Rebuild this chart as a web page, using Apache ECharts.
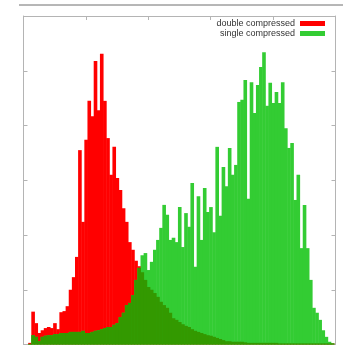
<!DOCTYPE html>
<html>
<head>
<meta charset="utf-8">
<script src="https://cdn.jsdelivr.net/npm/echarts@6/dist/echarts.min.js"></script>
<style>
  html, body { margin: 0; padding: 0; background: #ffffff; }
  #chart { width: 343px; height: 348px; }
</style>
</head>
<body>
<div id="chart"></div>
<script>
// Histogram of two score distributions, 99 bins; bin k is centred at x = k + 1.
const seriesNames = ['double compressed', 'single compressed'];

// bin counts, double compressed
const doubleCompressed = [
  0, 3, 60, 39, 21, 26, 30, 32, 30, 39,
  28, 59, 61, 70, 100, 123, 160, 355, 224, 374,
  445, 417, 518, 428, 531, 445, 377, 310, 361, 304,
  282, 249, 224, 187, 173, 153, 143, 132, 118, 105,
  100, 94, 87, 78, 72, 67, 58, 48, 45, 41,
  37, 34, 32, 28, 25, 23, 21, 19, 17, 16,
  14, 12, 10, 8, 6, 6, 5, 5, 5, 5,
  4, 3, 3, 3, 3, 3, 3, 3, 3, 3,
  3, 2, 2, 2, 2, 2, 2, 2, 2, 2,
  2, 2, 2, 2, 2, 2, 2, 2, 2
];

// bin counts, single compressed
const singleCompressed = [
  0, 1, 17, 14, 6, 14, 16, 17, 17, 19,
  19, 21, 21, 21, 23, 23, 23, 23, 25, 21,
  21, 23, 25, 26, 28, 30, 32, 32, 36, 39,
  50, 58, 72, 76, 90, 118, 140, 163, 167, 136,
  151, 173, 191, 213, 255, 237, 191, 195, 187, 251,
  178, 240, 215, 295, 142, 271, 191, 286, 242, 251,
  205, 361, 235, 324, 289, 359, 310, 328, 443, 447,
  483, 266, 479, 423, 474, 507, 534, 436, 478, 441,
  461, 441, 479, 395, 359, 368, 264, 310, 176, 255,
  176, 118, 67, 58, 45, 26, 14, 5, 2
];

const RED = '#ff0000';
const GREEN = '#33cc33';
const OVERLAP = '#339900';
const FRAME = '#b4b4b4';

function toPoints(values) {
  return values.map((v, k) => [k + 1, v]);
}
const overlapValues = doubleCompressed.map((v, k) => Math.min(v, singleCompressed[k]));

// Adjacent boxes are widened a little so that no hairline gaps appear between them.
const SEAM = 0.5;

function binRenderer(fill) {
  return function (params, api) {
    const x = api.value(0);
    const v = api.value(1);
    if (!v) return null;
    const topLeft = api.coord([x - 0.5, v]);
    const bottomRight = api.coord([x + 0.5, 0]);
    return {
      type: 'rect',
      shape: {
        x: topLeft[0],
        y: topLeft[1],
        width: bottomRight[0] - topLeft[0] + SEAM,
        height: bottomRight[1] - topLeft[1]
      },
      style: { fill: fill }
    };
  };
}

function frameAxis(position) {
  const vertical = position === 'left' || position === 'right';
  return {
    type: 'value',
    position: position,
    min: 0,
    max: vertical ? 600 : 100,
    interval: vertical ? 100 : 20,
    axisLine: { show: true, onZero: false, lineStyle: { color: FRAME, width: 1 } },
    axisTick: { show: true, inside: true, length: 4, lineStyle: { color: FRAME, width: 1 } },
    axisLabel: { show: false },
    splitLine: { show: false }
  };
}

function legendFor(name, top) {
  return {
    data: [name],
    right: 18,
    top: top,
    orient: 'vertical',
    align: 'right',
    icon: 'rect',
    itemWidth: 25,
    itemHeight: 5,
    itemGap: 0,
    padding: 0,
    selectedMode: false,
    textStyle: { fontFamily: 'Liberation Sans, Arial, sans-serif', fontSize: 9, color: '#333333' }
  };
}

const chart = echarts.init(document.getElementById('chart'), null, { renderer: 'canvas' });
chart.setOption({
  animation: false,
  backgroundColor: '#ffffff',
  grid: { left: 23.5, right: 7.5, top: 16, bottom: 3.5, containLabel: false },
  xAxis: [frameAxis('bottom'), frameAxis('top')],
  yAxis: [frameAxis('left'), frameAxis('right')],
  legend: [legendFor(seriesNames[0], 19), legendFor(seriesNames[1], 29)],
  graphic: [{
    type: 'line',
    shape: { x1: 19, y1: 5, x2: 343, y2: 5 },
    style: { stroke: '#6e6e6e', lineWidth: 1 },
    silent: true
  }],
  series: [
    {
      name: seriesNames[0],
      type: 'custom',
      xAxisIndex: 0, yAxisIndex: 0,
      itemStyle: { color: RED },
      renderItem: binRenderer(RED),
      data: toPoints(doubleCompressed)
    },
    {
      name: seriesNames[1],
      type: 'custom',
      xAxisIndex: 0, yAxisIndex: 0,
      itemStyle: { color: GREEN },
      renderItem: binRenderer(GREEN),
      data: toPoints(singleCompressed)
    },
    {
      name: 'overlap',
      type: 'custom',
      xAxisIndex: 0, yAxisIndex: 0,
      itemStyle: { color: OVERLAP },
      renderItem: binRenderer(OVERLAP),
      data: toPoints(overlapValues)
    }
  ]
});
</script>
</body>
</html>
